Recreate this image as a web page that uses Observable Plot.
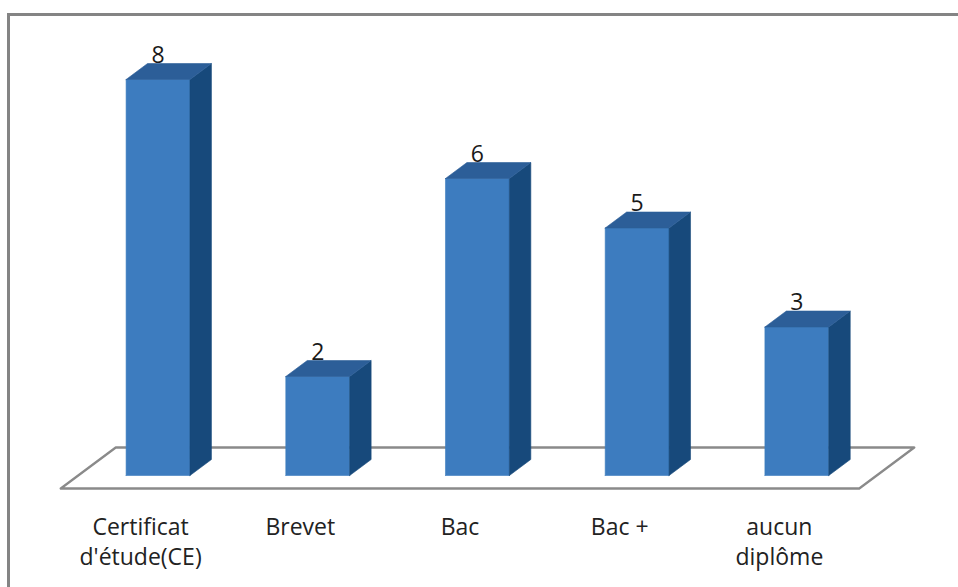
<!DOCTYPE html>
<html><head><meta charset="utf-8">
<script src="https://cdn.jsdelivr.net/npm/d3@7"></script>
<script src="https://cdn.jsdelivr.net/npm/@observablehq/plot@0.6"></script>
<style>
body{margin:0;overflow:hidden;background:#fff}
#chart{position:absolute;left:0;top:0}
#frame{position:absolute;left:7px;top:13px;width:2000px;height:2000px;border:3px solid #848484;pointer-events:none}
</style>
</head><body><div id="chart"></div><div id="frame"></div>
<script>
const categories = ["Certificat\nd'étude(CE)", "Brevet", "Bac", "Bac +", "aucun\ndiplôme"];
const values = [8, 2, 6, 5, 3];
const yMax = 9;

// oblique 3D projection expressed in data units
const KX = 0.3444, KY = 0.828;   // shift per unit of depth
const D0 = 0.317, D1 = 0.707;    // bar front / back depth
const HW = 0.2;                  // bar half width

const frontFaces = [], sideFaces = [], topFaces = [];
values.forEach((v, i) => {
  const xl0 = i - HW + KX * D0, xr0 = i + HW + KX * D0;
  const xl1 = i - HW + KX * D1, xr1 = i + HW + KX * D1;
  const b0 = KY * D0, b1 = KY * D1, t0 = v + KY * D0, t1 = v + KY * D1;
  [[xl0,b0],[xr0,b0],[xr0,t0],[xl0,t0],[xl0,b0]].forEach(([x,y]) => frontFaces.push({id:i,x,y}));
  [[xr0,b0],[xr1,b1],[xr1,t1],[xr0,t0],[xr0,b0]].forEach(([x,y]) => sideFaces.push({id:i,x,y}));
  [[xl0,t0],[xr0,t0],[xr1,t1],[xl1,t1],[xl0,t0]].forEach(([x,y]) => topFaces.push({id:i,x,y}));
});
const n = categories.length;
const floorPts = [[-0.5,0],[n-0.5,0],[n-0.5+KX,KY],[-0.5+KX,KY],[-0.5,0]].map(([x,y]) => ({x,y}));

const valueLabels = values.map((v, i) => ({x: i + KX * D0, y: v + KY * D1, t: String(v)}));
const catLabels = categories.map((c, i) => ({x: i, y: 0, t: c}));

const face = (data, color) => Plot.line(data, {x:"x", y:"y", z:"id", fill: color, stroke: color, strokeWidth: 0.6});

const chart = Plot.plot({
  width: 958, height: 587,
  x: {domain: [0, n - 1], range: [140.1, 778.9], axis: null},
  y: {domain: [0, yMax], range: [488, 42.5], axis: null},
  style: {background: "transparent"},
  marks: [
    Plot.line(floorPts, {x:"x", y:"y", stroke:"#8a8a8a", strokeWidth:2.3, fill:"white"}),
    face(frontFaces, "#3d7cbf"),
    face(sideFaces, "#17497b"),
    face(topFaces, "#2c5e98"),
    Plot.text(valueLabels, {x:"x", y:"y", text:"t", lineAnchor:"bottom", dy:-1, fontSize:23, fontFamily:"Open Sans", fill:"#1a1a1a"}),
    Plot.text(catLabels, {x:"x", y:"y", text:"t", lineAnchor:"top", dy:25, lineHeight:1.3, fontSize:23, fontFamily:"Open Sans", fill:"#222"})
  ]
});
document.getElementById("chart").appendChild(chart);
</script>
</body></html>
